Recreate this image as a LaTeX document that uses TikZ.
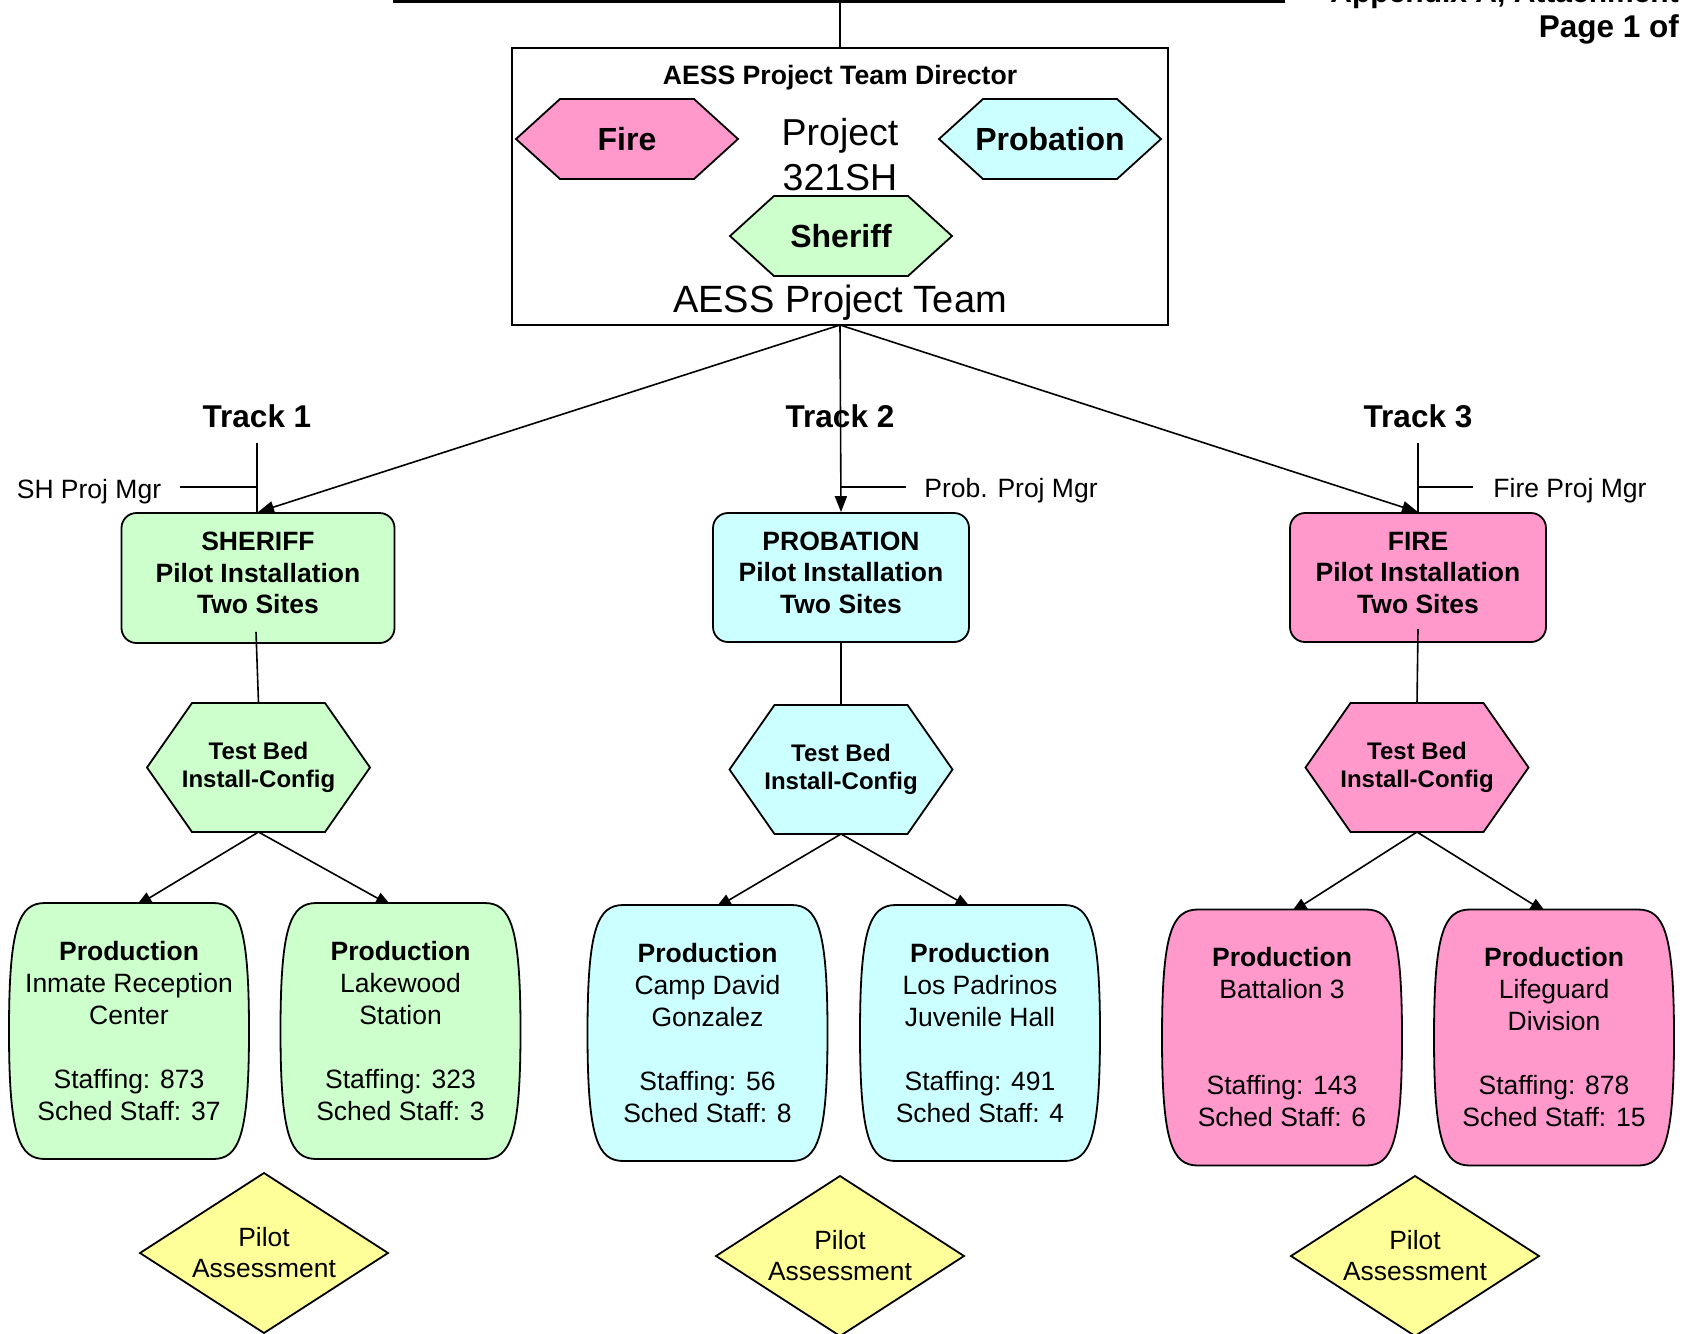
\documentclass[tikz,border=0pt]{standalone}
\usepackage{fontspec}
\setmainfont{Liberation Sans}
\usetikzlibrary{arrows.meta,calc}
\pgfdeclarelayer{bg}
\pgfdeclarelayer{mid}
\pgfsetlayers{bg,mid,main}
\definecolor{cgreen}{RGB}{204,255,204}
\definecolor{ccyan}{RGB}{204,255,255}
\definecolor{cpink}{RGB}{255,153,204}
\definecolor{cyellow}{RGB}{255,255,153}

\newcommand{\hexshape}[3]{%
  \begin{pgfonlayer}{mid}
  \draw[shapeline, fill=#3] ($(#1.north west)+(#2,0)$) -- ($(#1.north east)+(-#2,0)$) -- (#1.east)
     -- ($(#1.south east)+(-#2,0)$) -- ($(#1.south west)+(#2,0)$) -- (#1.west) -- cycle;
  \end{pgfonlayer}}
\newcommand{\barrelshape}[2]{%
  \begin{pgfonlayer}{mid}
  \draw[shapeline, fill=#2]
    ($(#1.north west)+(36,0)$) -- ($(#1.north east)+(-36,0)$)
    .. controls ($(#1.north east)+(-10,0)$) and ($(#1.east)+(0,-105)$) .. (#1.east)
    .. controls ($(#1.east)+(0,105)$) and ($(#1.south east)+(-10,0)$) .. ($(#1.south east)+(-36,0)$)
    -- ($(#1.south west)+(36,0)$)
    .. controls ($(#1.south west)+(10,0)$) and ($(#1.west)+(0,105)$) .. (#1.west)
    .. controls ($(#1.west)+(0,-105)$) and ($(#1.north west)+(10,0)$) .. cycle;
  \end{pgfonlayer}}
\newcommand{\diamondpath}[2]{%
  \begin{pgfonlayer}{mid}
  \draw[shapeline, fill=#2] (#1.north) -- (#1.east) -- (#1.south) -- (#1.west) -- cycle;
  \end{pgfonlayer}}
\newcommand{\lowstrut}{\rule[-10pt]{0pt}{0pt}}

\tikzset{
  shapeline/.style={draw=black, line width=1.8pt, line join=miter},
  conn/.style={draw=black, line width=1.6pt},
  arr/.style={conn, -{Triangle[length=16pt,width=12pt]}},
  fsix/.style={font=\fontsize{26.5}{32}\selectfont},
  fsixb/.style={font=\bfseries\fontsize{26.5}{31.5}\selectfont},
  plain/.style={inner sep=0pt, outer sep=0pt},
  hexnode/.style={plain, align=center},
  pilot/.style={draw=black, line width=1.8pt, rounded corners=15pt, align=center,
    inner sep=0pt, fsixb},
  barrelnode/.style={plain, align=center, fsix, minimum width=240pt, minimum height=256pt},
  dianode/.style={plain, align=center, font=\fontsize{26.4}{31}\selectfont, minimum width=248pt, minimum height=160pt},
  tbnode/.style={hexnode, font=\bfseries\fontsize{24}{28}\selectfont, minimum width=223pt, minimum height=129pt},
  tophex/.style={hexnode, font=\bfseries\fontsize{32}{38}\selectfont, minimum width=222pt, minimum height=80pt},
  trackfont/.style={font=\bfseries\fontsize{31.5}{38}\selectfont},
  hdrfont/.style={font=\bfseries\fontsize{31.5}{38}\selectfont},
}

\begin{document}
\begin{tikzpicture}[x=1pt,y=-1pt]
\useasboundingbox (0,0) rectangle (1683,1333);

% header
\coordinate (ruleL) at (393,1);
\coordinate (ruleR) at (1285,1);
\coordinate (ruleM) at (840,1);
\draw[line width=3pt] (ruleL) -- (ruleR);
\node[anchor=base east, font=\bfseries\fontsize{30}{36}\selectfont, inner sep=0pt] (hdr) at (1679,2) {Appendix A, Attachment};
\node[anchor=base east, hdrfont, inner sep=0pt] (page) at (1679,37) {Page 1 of};

% project team box
\node[draw=black, line width=1.8pt, minimum width=656pt, minimum height=277pt, plain] (team) at (840,186.5) {};
\draw[conn] (ruleM) -- (team.north);
\node[anchor=base, font=\bfseries\fontsize{26.6}{32}\selectfont, inner sep=0pt] (director) at (840,84) {AESS Project Team Director};
\node[anchor=base, font=\fontsize{37.5}{45}\selectfont, inner sep=0pt] (proj1) at (840,145) {Project};
\node[anchor=base, font=\fontsize{37.5}{45}\selectfont, inner sep=0pt] (proj2) at (840,190) {321SH};
\node[anchor=base, font=\fontsize{38}{46}\selectfont, inner sep=0pt] (teamlbl) at (840,312) {AESS Project Team};

\node[tophex] (fire) at (627,139) {Fire};
\hexshape{fire}{44}{cpink}
\node[tophex] (prob) at (1050,139) {Probation};
\hexshape{prob}{44}{ccyan}
\node[tophex] (sher) at (841,236) {Sheriff};
\hexshape{sher}{44}{cgreen}

% tracks
\node[anchor=base, trackfont, inner sep=0pt] (track1) at (257,427) {Track 1};
\node[anchor=base, trackfont, inner sep=0pt] (track2) at (840,427) {Track 2};
\node[anchor=base, trackfont, inner sep=0pt] (track3) at (1418,427) {Track 3};

\node[pilot, fill=cgreen, minimum width=273pt, minimum height=130pt] (shpilot) at (258,578) {SHERIFF\\Pilot Installation\\Two Sites\lowstrut};
\node[pilot, fill=ccyan, minimum width=256pt, minimum height=129pt] (prpilot) at (841,577.5) {PROBATION\\Pilot Installation\\Two Sites\lowstrut};
\node[pilot, fill=cpink, minimum width=256pt, minimum height=129pt] (frpilot) at (1418,577.5) {FIRE\\Pilot Installation\\Two Sites\lowstrut};

\coordinate (t1top) at (257,443);
\coordinate (t3top) at (1418,443);
\draw[conn] (t1top) -- (t1top |- shpilot.north);
\draw[conn] (t3top) -- (t3top |- frpilot.north);

\coordinate (shmgrL) at (180,487);
\coordinate (shmgrR) at (257,487);
\coordinate (prmgrL) at (841,487);
\coordinate (prmgrR) at (906,487);
\coordinate (frmgrL) at (1418,487);
\coordinate (frmgrR) at (1473,487);
\draw[conn] (shmgrL) -- (shmgrR);
\draw[conn] (prmgrL) -- (prmgrR);
\draw[conn] (frmgrL) -- (frmgrR);
\node[anchor=base, fsix, inner sep=0pt] (shmgr) at (89,498) {SH Proj Mgr};
\node[anchor=base, fsix, inner sep=0pt] (prmgr) at (1011,497) {Prob. Proj Mgr};
\node[anchor=base, fsix, inner sep=0pt] (frmgr) at (1570,497) {Fire Proj Mgr};

\draw[arr] (team.south) -- (shpilot.north);
\draw[arr] (team.south) -- (prpilot.north);
\draw[arr] (team.south) -- (frpilot.north);

% test beds
\node[tbnode] (tb1) at (258.5,767.5) {Test Bed\\Install-Config};
\hexshape{tb1}{45}{cgreen}
\node[tbnode] (tb2) at (841,769.5) {Test Bed\\Install-Config};
\hexshape{tb2}{45}{ccyan}
\node[tbnode] (tb3) at (1417,767.5) {Test Bed\\Install-Config};
\hexshape{tb3}{45}{cpink}

\draw[conn] ($(shpilot.south)+(-2,-12)$) -- (tb1.north);
\draw[conn] (prpilot.south) -- (tb2.north);
\draw[conn] ($(frpilot.south)+(0,-14)$) -- (tb3.north);

% production sites
\node[barrelnode] (b1) at (129,1031) {\textbf{Production}\\Inmate Reception\\Center\\[32pt]Staffing: 873\\Sched Staff: 37};
\barrelshape{b1}{cgreen}
\node[barrelnode] (b2) at (400.5,1031) {\textbf{Production}\\Lakewood\\Station\\[32pt]Staffing: 323\\Sched Staff: 3};
\barrelshape{b2}{cgreen}
\node[barrelnode] (b3) at (707.5,1033) {\textbf{Production}\\Camp David\\Gonzalez\\[32pt]Staffing: 56\\Sched Staff: 8};
\barrelshape{b3}{ccyan}
\node[barrelnode] (b4) at (980,1033) {\textbf{Production}\\Los Padrinos\\Juvenile Hall\\[32pt]Staffing: 491\\Sched Staff: 4};
\barrelshape{b4}{ccyan}
\node[barrelnode] (b5) at (1282,1037.5) {\textbf{Production}\\Battalion 3\\[64pt]Staffing: 143\\Sched Staff: 6};
\barrelshape{b5}{cpink}
\node[barrelnode] (b6) at (1554,1037.5) {\textbf{Production}\\Lifeguard\\Division\\[32pt]Staffing: 878\\Sched Staff: 15};
\barrelshape{b6}{cpink}

\begin{pgfonlayer}{bg}
\draw[arr] (tb1.south) -- ($(b1.north)+(7,3)$);
\draw[arr] (tb1.south) -- ($(b2.north)+(-9,3)$);
\draw[arr] (tb2.south) -- ($(b3.north)+(8,3)$);
\draw[arr] (tb2.south) -- ($(b4.north)+(-9,3)$);
\draw[arr] (tb3.south) -- ($(b5.north)+(9,3)$);
\draw[arr] (tb3.south) -- ($(b6.north)+(-8,3)$);
\end{pgfonlayer}

% assessments
\node[dianode] (d1) at (264,1253) {Pilot\\Assessment};
\diamondpath{d1}{cyellow}
\node[dianode] (d2) at (840,1256) {Pilot\\Assessment};
\diamondpath{d2}{cyellow}
\node[dianode] (d3) at (1415,1256) {Pilot\\Assessment};
\diamondpath{d3}{cyellow}
\end{tikzpicture}
\end{document}
